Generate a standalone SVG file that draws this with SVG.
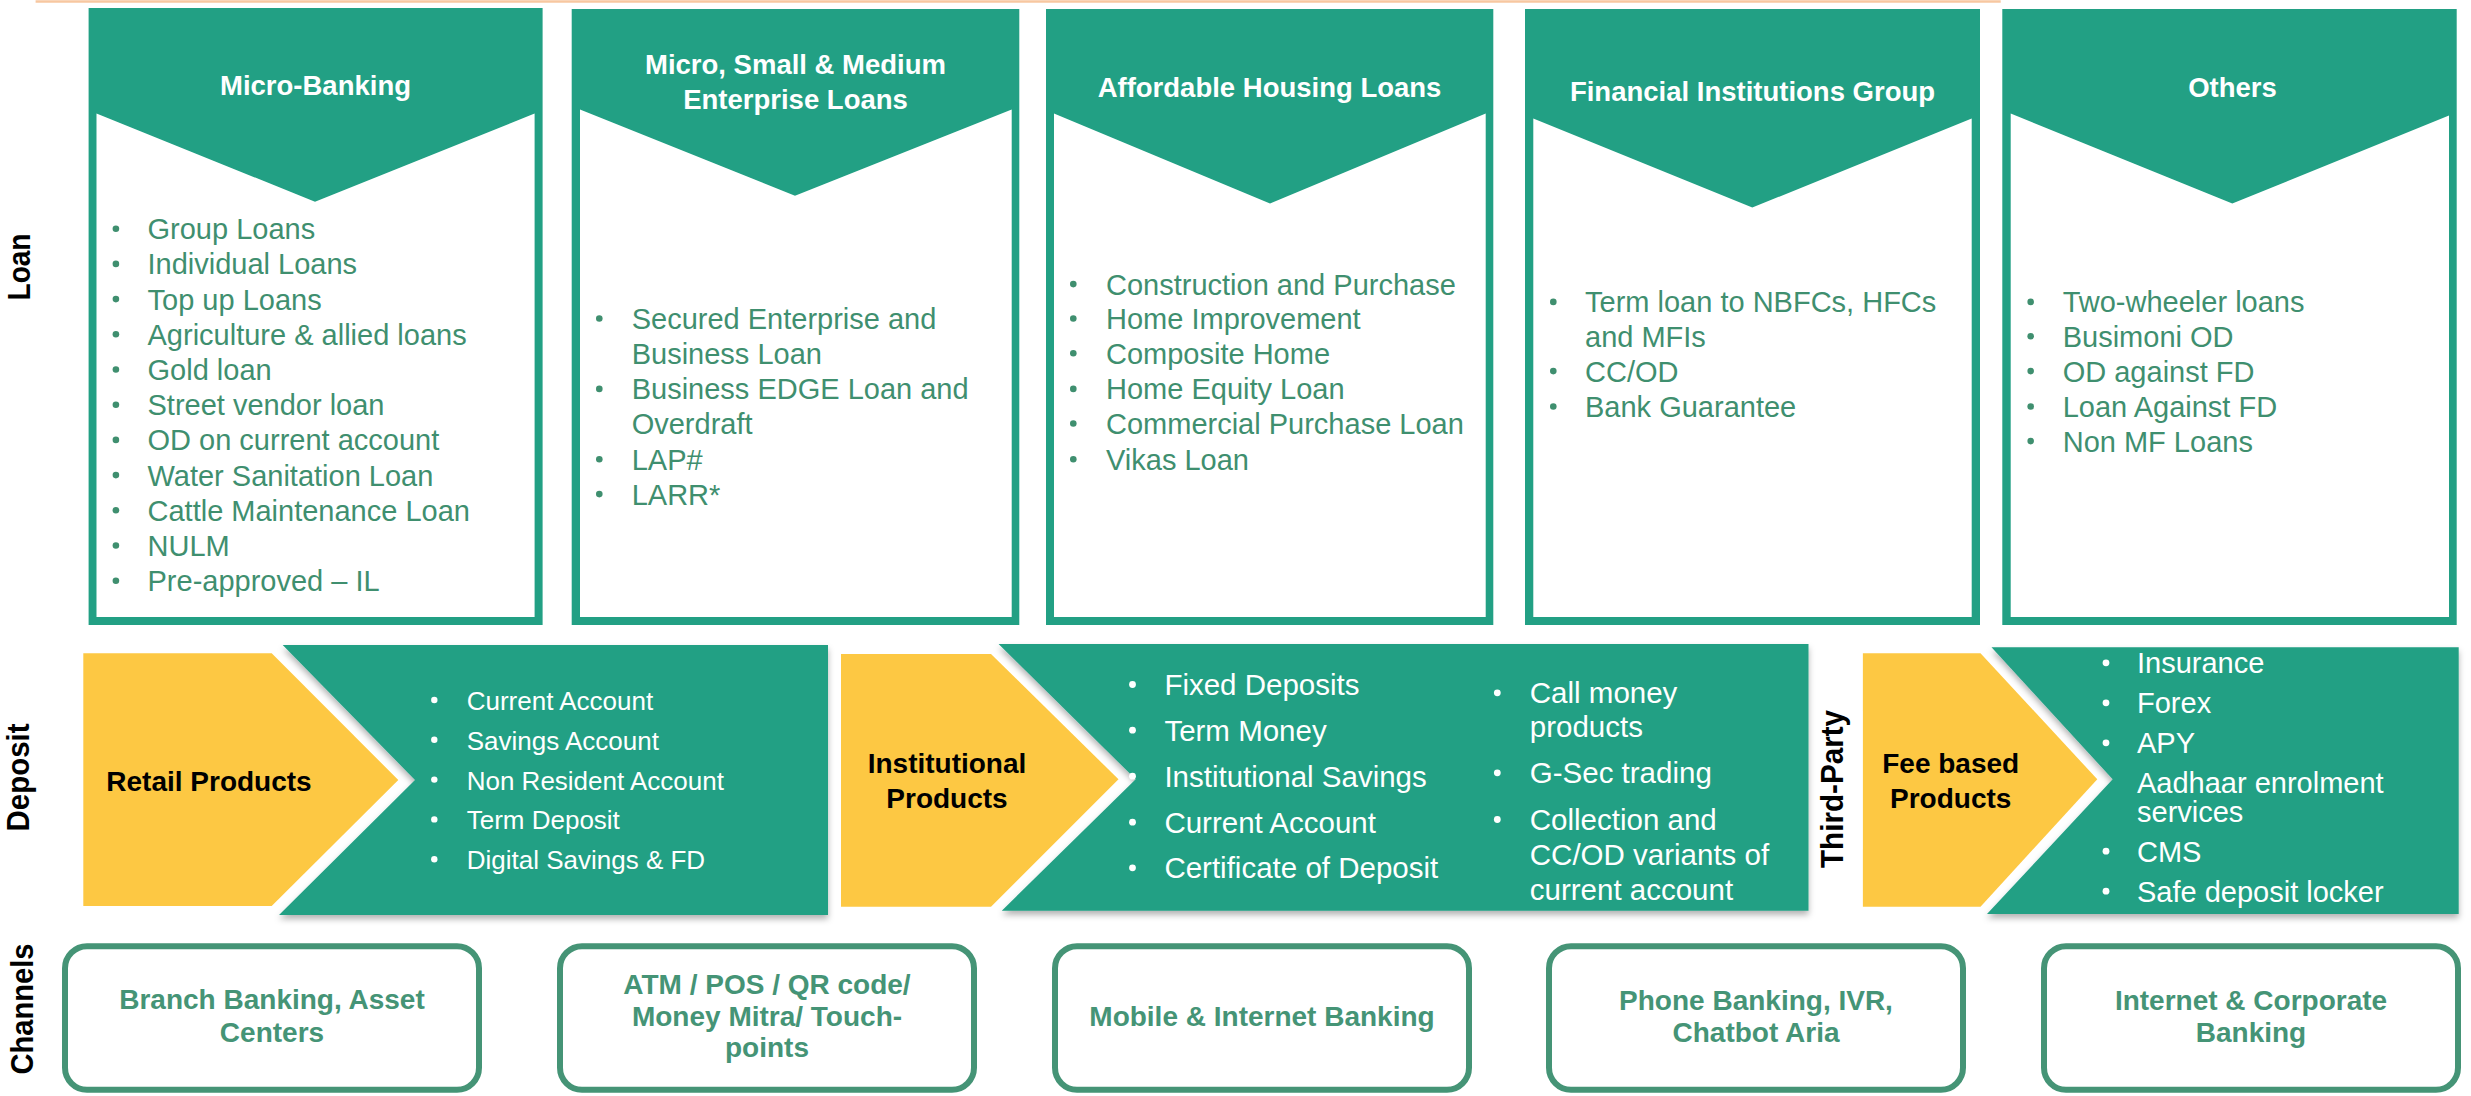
<svg xmlns="http://www.w3.org/2000/svg" width="2471" height="1096" viewBox="0 0 2471 1096">
<defs>
<style>
text{font-family:"Liberation Sans",Arial,sans-serif}
.card{fill:#22A084}
.inner{fill:#FFFFFF}
.title{font-size:27.5px;font-weight:bold;fill:#FFFFFF;text-anchor:middle}
.item{font-size:29px;fill:#3F8F6F}
.bul{fill:#3F8F6F}
.wbul{fill:#FFFFFF}
.teal{fill:#22A084;filter:url(#sh)}
.yel{fill:#FDC843}
.ytxt{font-size:28px;font-weight:bold;fill:#000000;text-anchor:middle}
.ritem{font-size:26px;fill:#FFFFFF}
.ditem{font-size:29.5px;fill:#FFFFFF}
.fitem{font-size:29px;fill:#FFFFFF}
.lbl{font-size:32px;font-weight:bold;fill:#000000;text-anchor:middle}
.chbox{fill:#FFFFFF;stroke:#459476;stroke-width:6}
.chtxt{font-size:28px;font-weight:bold;fill:#459476;text-anchor:middle}
</style>
<filter id="sh" x="-5%" y="-5%" width="110%" height="115%">
<feDropShadow dx="0" dy="4" stdDeviation="3" flood-color="#000000" flood-opacity="0.3"/>
</filter>
</defs>
<rect x="0" y="0" width="2471" height="1096" fill="#FFFFFF"/>
<line x1="35.6" y1="1.6" x2="2000.7" y2="1.6" stroke="#F7C7A0" stroke-width="2.5"/>

<g id="row-labels">
<text class="lbl" transform="translate(29.7,267) rotate(-90)" textLength="67" lengthAdjust="spacingAndGlyphs">Loan</text>
<text class="lbl" transform="translate(29.3,777.5) rotate(-90)" textLength="108" lengthAdjust="spacingAndGlyphs">Deposit</text>
<text class="lbl" transform="translate(1843,789) rotate(-90)" textLength="158" lengthAdjust="spacingAndGlyphs">Third-Party</text>
<text class="lbl" transform="translate(33,1009) rotate(-90)" textLength="131" lengthAdjust="spacingAndGlyphs">Channels</text>
</g>

<g id="loan-micro-banking">
<rect class="card" x="88.6" y="8" width="454" height="617"/>
<polygon class="inner" points="96.5,113.5 315,201.7 534.6,113.5 534.6,617 96.5,617"/>
<text class="title" x="315.5" y="95">Micro-Banking</text>
<g class="bul">
<circle cx="115.9" cy="228.7" r="3.3"/><circle cx="115.9" cy="263.9" r="3.3"/><circle cx="115.9" cy="299.1" r="3.3"/><circle cx="115.9" cy="334.3" r="3.3"/><circle cx="115.9" cy="369.5" r="3.3"/><circle cx="115.9" cy="404.7" r="3.3"/><circle cx="115.9" cy="439.9" r="3.3"/><circle cx="115.9" cy="475.1" r="3.3"/><circle cx="115.9" cy="510.3" r="3.3"/><circle cx="115.9" cy="545.5" r="3.3"/><circle cx="115.9" cy="580.7" r="3.3"/>
</g>
<text class="item" x="147.5" y="239.2">Group Loans</text>
<text class="item" x="147.5" y="274.4">Individual Loans</text>
<text class="item" x="147.5" y="309.6">Top up Loans</text>
<text class="item" x="147.5" y="344.8">Agriculture &amp; allied loans</text>
<text class="item" x="147.5" y="380">Gold loan</text>
<text class="item" x="147.5" y="415.2">Street vendor loan</text>
<text class="item" x="147.5" y="450.4">OD on current account</text>
<text class="item" x="147.5" y="485.6">Water Sanitation Loan</text>
<text class="item" x="147.5" y="520.8">Cattle Maintenance Loan</text>
<text class="item" x="147.5" y="556">NULM</text>
<text class="item" x="147.5" y="591.2">Pre-approved – IL</text>
</g>

<g id="loan-msme">
<rect class="card" x="571.7" y="9" width="447.6" height="616"/>
<polygon class="inner" points="580,109.5 795,195.7 1011.7,109.5 1011.7,617 580,617"/>
<text class="title" x="795.5" y="74">Micro, Small &amp; Medium</text>
<text class="title" x="795.5" y="108.7">Enterprise Loans</text>
<g class="bul">
<circle cx="599.3" cy="318.5" r="3.3"/><circle cx="599.3" cy="388.9" r="3.3"/><circle cx="599.3" cy="459.2" r="3.3"/><circle cx="599.3" cy="494.1" r="3.3"/>
</g>
<text class="item" x="631.7" y="329">Secured Enterprise and</text>
<text class="item" x="631.7" y="363.8">Business Loan</text>
<text class="item" x="631.7" y="399.4">Business EDGE Loan and</text>
<text class="item" x="631.7" y="434">Overdraft</text>
<text class="item" x="631.7" y="469.7">LAP#</text>
<text class="item" x="631.7" y="504.6">LARR*</text>
</g>

<g id="loan-affordable-housing">
<rect class="card" x="1046" y="9" width="447.3" height="616"/>
<polygon class="inner" points="1054,113.5 1270,203.6 1485.7,113.5 1485.7,617 1054,617"/>
<text class="title" x="1269.5" y="96.9">Affordable Housing Loans</text>
<g class="bul">
<circle cx="1073.3" cy="284.1" r="3.3"/><circle cx="1073.3" cy="318.5" r="3.3"/><circle cx="1073.3" cy="353.3" r="3.3"/><circle cx="1073.3" cy="388.9" r="3.3"/><circle cx="1073.3" cy="423.5" r="3.3"/><circle cx="1073.3" cy="459.2" r="3.3"/>
</g>
<text class="item" x="1106" y="294.6">Construction and Purchase</text>
<text class="item" x="1106" y="329">Home Improvement</text>
<text class="item" x="1106" y="363.8">Composite Home</text>
<text class="item" x="1106" y="399.4">Home Equity Loan</text>
<text class="item" x="1106" y="434">Commercial Purchase Loan</text>
<text class="item" x="1106" y="469.7">Vikas Loan</text>
</g>

<g id="loan-fig">
<rect class="card" x="1525" y="9" width="455" height="616"/>
<polygon class="inner" points="1533.3,118.6 1752.3,207.6 1971.7,118.6 1971.7,617 1533.3,617"/>
<text class="title" x="1752.5" y="100.8">Financial Institutions Group</text>
<g class="bul">
<circle cx="1553.3" cy="301.9" r="3.3"/><circle cx="1553.3" cy="371.1" r="3.3"/><circle cx="1553.3" cy="406.5" r="3.3"/>
</g>
<text class="item" x="1585" y="312.4">Term loan to NBFCs, HFCs</text>
<text class="item" x="1585" y="346.8">and MFIs</text>
<text class="item" x="1585" y="381.6">CC/OD</text>
<text class="item" x="1585" y="417">Bank Guarantee</text>
</g>

<g id="loan-others">
<rect class="card" x="2002.3" y="9" width="454.4" height="616"/>
<polygon class="inner" points="2010.7,113.5 2232.3,203.6 2449,115.5 2449,617 2010.7,617"/>
<text class="title" x="2232.5" y="96.9">Others</text>
<g class="bul">
<circle cx="2030.7" cy="301.9" r="3.3"/><circle cx="2030.7" cy="336.3" r="3.3"/><circle cx="2030.7" cy="371.1" r="3.3"/><circle cx="2030.7" cy="406.5" r="3.3"/><circle cx="2030.7" cy="441.1" r="3.3"/>
</g>
<text class="item" x="2062.7" y="312.4">Two-wheeler loans</text>
<text class="item" x="2062.7" y="346.8">Busimoni OD</text>
<text class="item" x="2062.7" y="381.6">OD against FD</text>
<text class="item" x="2062.7" y="417">Loan Against FD</text>
<text class="item" x="2062.7" y="451.6">Non MF Loans</text>
</g>

<g id="deposit-retail">
<polygon class="teal" points="282.7,645 828,645 828,915 279,915 415,780"/>
<polygon class="yel" points="83.3,653.3 271.7,653.3 398.3,780 271.7,906 83.3,906"/>
<text class="ytxt" x="209" y="790.7">Retail Products</text>
<g class="wbul">
<circle cx="434.3" cy="700" r="3.2"/><circle cx="434.3" cy="739.8" r="3.2"/><circle cx="434.3" cy="779.6" r="3.2"/><circle cx="434.3" cy="819.4" r="3.2"/><circle cx="434.3" cy="859.2" r="3.2"/>
</g>
<text class="ritem" x="466.7" y="710">Current Account</text>
<text class="ritem" x="466.7" y="749.8">Savings Account</text>
<text class="ritem" x="466.7" y="789.6">Non Resident Account</text>
<text class="ritem" x="466.7" y="829.4">Term Deposit</text>
<text class="ritem" x="466.7" y="869.2">Digital Savings &amp; FD</text>
</g>

<g id="deposit-institutional">
<polygon class="teal" points="998.6,644 1808.5,644 1808.5,910.7 1001.8,910.7 1135.7,779.3"/>
<polygon class="yel" points="841,654 991,654 1118.5,779.3 991,906.7 841,906.7"/>
<text class="ytxt" x="947" y="773.3">Institutional</text>
<text class="ytxt" x="947" y="808.3">Products</text>
<g class="wbul">
<circle cx="1132.5" cy="684.5" r="3.4"/><circle cx="1132.5" cy="730.2" r="3.4"/><circle cx="1132.5" cy="776.2" r="3.4"/><circle cx="1132.5" cy="822.2" r="3.4"/><circle cx="1132.5" cy="867.8" r="3.4"/>
<circle cx="1497.3" cy="692.8" r="3.4"/><circle cx="1497.3" cy="772.8" r="3.4"/><circle cx="1497.3" cy="819.5" r="3.4"/>
</g>
<text class="ditem" x="1164.4" y="695">Fixed Deposits</text>
<text class="ditem" x="1164.4" y="740.7">Term Money</text>
<text class="ditem" x="1164.4" y="786.7">Institutional Savings</text>
<text class="ditem" x="1164.4" y="832.7">Current Account</text>
<text class="ditem" x="1164.4" y="878.3">Certificate of Deposit</text>
<text class="ditem" x="1529.8" y="703.3">Call money</text>
<text class="ditem" x="1529.8" y="737.3">products</text>
<text class="ditem" x="1529.8" y="783.3">G-Sec trading</text>
<text class="ditem" x="1529.8" y="830">Collection and</text>
<text class="ditem" x="1529.8" y="865">CC/OD variants of</text>
<text class="ditem" x="1529.8" y="900">current account</text>
</g>

<g id="thirdparty-fee">
<polygon class="teal" points="1991.5,647.3 2458.7,647.3 2458.7,914 1987,914 2112.7,779.3"/>
<polygon class="yel" points="1862.9,653.3 1980.5,653.3 2097.3,779.3 1980.5,906.7 1862.9,906.7"/>
<text class="ytxt" x="1950.7" y="773.3">Fee based</text>
<text class="ytxt" x="1950.7" y="808.3">Products</text>
<g class="wbul">
<circle cx="2106" cy="662.8" r="3.4"/><circle cx="2106" cy="702.8" r="3.4"/><circle cx="2106" cy="742.8" r="3.4"/><circle cx="2106" cy="851.2" r="3.4"/><circle cx="2106" cy="891.2" r="3.4"/>
</g>
<text class="fitem" x="2137" y="673.3">Insurance</text>
<text class="fitem" x="2137" y="713.3">Forex</text>
<text class="fitem" x="2137" y="753.3">APY</text>
<text class="fitem" x="2137" y="793.3">Aadhaar enrolment</text>
<text class="fitem" x="2137" y="821.7">services</text>
<text class="fitem" x="2137" y="861.7">CMS</text>
<text class="fitem" x="2137" y="901.7">Safe deposit locker</text>
</g>

<g id="channel-branch">
<rect class="chbox" x="65" y="946.3" width="414" height="143.4" rx="22"/>
<text class="chtxt" x="272" y="1009.3">Branch Banking, Asset</text>
<text class="chtxt" x="272" y="1041.7">Centers</text>
</g>
<g id="channel-atm">
<rect class="chbox" x="560" y="946.3" width="414" height="143.4" rx="22"/>
<text class="chtxt" x="767" y="994">ATM / POS / QR code/</text>
<text class="chtxt" x="767" y="1026">Money Mitra/ Touch-</text>
<text class="chtxt" x="767" y="1057.3">points</text>
</g>
<g id="channel-mobile">
<rect class="chbox" x="1055" y="946.3" width="414" height="143.4" rx="22"/>
<text class="chtxt" x="1262" y="1026">Mobile &amp; Internet Banking</text>
</g>
<g id="channel-phone">
<rect class="chbox" x="1549" y="946.3" width="414" height="143.4" rx="22"/>
<text class="chtxt" x="1756" y="1010">Phone Banking, IVR,</text>
<text class="chtxt" x="1756" y="1041.7">Chatbot Aria</text>
</g>
<g id="channel-corporate">
<rect class="chbox" x="2044" y="946.3" width="414" height="143.4" rx="22"/>
<text class="chtxt" x="2251" y="1010">Internet &amp; Corporate</text>
<text class="chtxt" x="2251" y="1041.7">Banking</text>
</g>

<g id="connectors"/>
</svg>
